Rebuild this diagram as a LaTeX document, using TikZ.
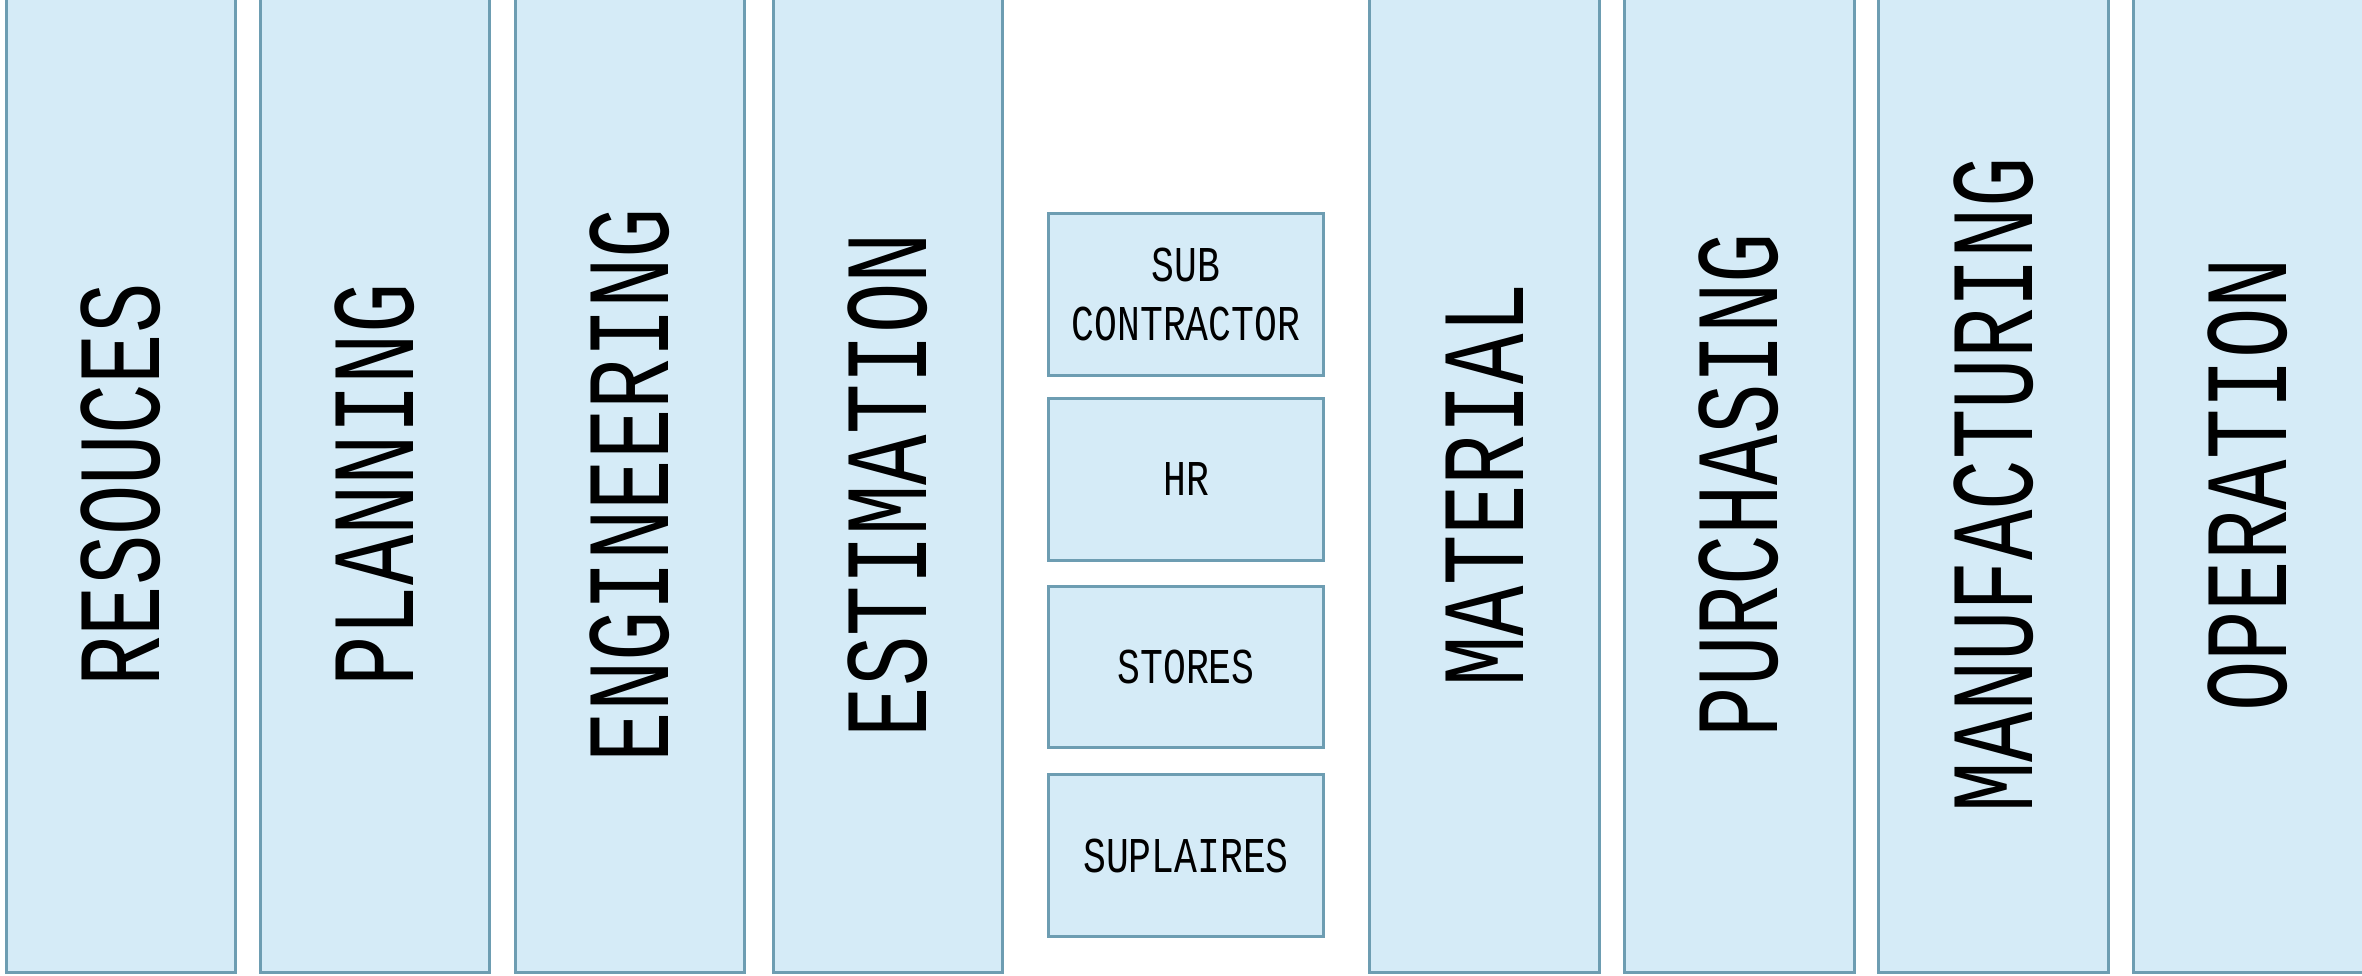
\documentclass[tikz,border=0pt]{standalone}
\usepackage{fontspec}
\setmainfont{Liberation Mono}
\newfontfamily\bigf{Liberation Mono}[FakeStretch=0.714]
\newfontfamily\smallf{Liberation Mono}[FakeStretch=0.76]
\definecolor{colfill}{HTML}{D5EBF7}
\definecolor{colline}{HTML}{6D9DB2}
\tikzset{
  colbox/.style={draw=colline, fill=colfill, line width=0.06cm, rotate=90,
    minimum width=19.52cm, minimum height=4.6cm, inner sep=0pt,
    font=\bigf\fontsize{67}{75}\selectfont, text=black},
  smallbox/.style={draw=colline, fill=colfill, line width=0.06cm,
    minimum width=5.52cm, minimum height=3.24cm, inner sep=0pt, align=center,
    font=\smallf\fontsize{28.5}{34}\selectfont, text=black}
}
\begin{document}
\begin{tikzpicture}[x=0.02cm,y=-0.02cm]
\useasboundingbox (0,0) rectangle (2362,976);
\clip (0,0) rectangle (2362,976);
\node[colbox] (c1) at (121,485) {RESOUCES};
\node[colbox] (c2) at (375,485) {PLANNING};
\node[colbox] (c3) at (630,485) {ENGINEERING};
\node[colbox] (c4) at (888,485) {ESTIMATION};
\node[smallbox] (b1) at (1186,294.5) {SUB\\CONTRACTOR};
\node[smallbox] (b2) at (1186,479.5) {HR};
\node[smallbox] (b3) at (1186,667) {STORES};
\node[smallbox] (b4) at (1186,855.5) {SUPLAIRES};
\node[colbox] (c5) at (1484.5,485) {MATERIAL};
\node[colbox] (c6) at (1739,485) {PURCHASING};
\node[colbox] (c7) at (1993.5,485) {MANUFACTURING};
\node[colbox] (c8) at (2248,485) {OPERATION};
\end{tikzpicture}
\end{document}
